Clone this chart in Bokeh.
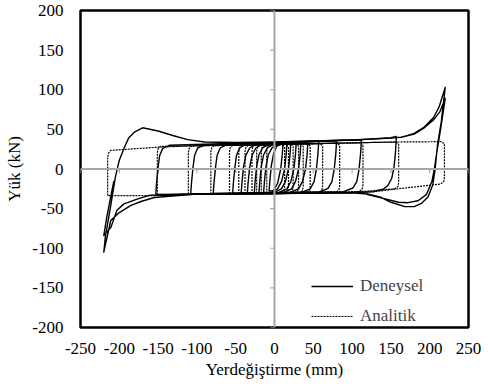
from bokeh.plotting import figure
from bokeh.models import Range1d, FixedTicker, Span, Legend, LegendItem
from bokeh.embed import file_html
from bokeh.resources import INLINE

# ---- axis ticks ----
x_ticks = [-250, -200, -150, -100, -50, 0, 50, 100, 150, 200, 250]
y_ticks = [-200, -150, -100, -50, 0, 50, 100, 150, 200]

# ---- Deneysel (experimental) cycles: displacement (mm), load (kN) ----
d1_x = [-7, -6, -4, -1, 3, 11, 10, 8, 4, -1, -7]
d1_y = [-28, -15, 5, 20, 29, 32, 18, 0, -18, -27, -28]
d2_x = [-14, -13, -11, -8, -3, 5, 16, 15, 13, 9, 4, -4, -14]
d2_y = [-29.5, -16, 3, 18, 27, 31.5, 33, 18, 0, -16, -25, -29.5, -29.5]
d3_x = [-20, -19, -17, -14, -9, -1, 21, 20, 18, 14, 9, 0, -20]
d3_y = [-30, -16, 3, 18, 27, 31.5, 33.5, 18, 0, -16, -25, -29.5, -30]
d4_x = [-26, -25, -23, -20, -15, -7, 28, 27, 25, 21, 16, 6, -26]
d4_y = [-30, -16, 3, 18, 27, 31.5, 34, 18, 0, -16, -25, -29.5, -30]
d5_x = [-35, -34, -32, -29, -24, -16, 34, 33, 31, 27, 22, 12, -35]
d5_y = [-30.5, -17, 2, 17, 26.5, 31.5, 34, 18, 0, -16, -25, -29.5, -30.5]
d6_x = [-43, -42, -40, -37, -32, -24, 43, 42, 40, 36, 31, 20, -43]
d6_y = [-31, -18, 2, 17, 26.5, 31.5, 34.5, 18, 0, -16, -25, -29.5, -31]
d7_x = [-54, -53, -51, -49, -45, -37, 57, 56, 54, 51, 46, 35, -54]
d7_y = [-31, -18, 2, 17, 26.5, 31, 35, 19, 0, -16, -25, -29.5, -31]
d8_x = [-79, -78, -76, -74, -70, -62, 80, 79, 77, 74, 69, 58, -79]
d8_y = [-31, -18, 2, 17, 26.5, 30.5, 35.5, 19, 0, -16, -24.5, -29, -31]
d9_x = [-108, -107, -105, -103, -99, -90, 112, 111, 109, 106, 101, 89, -108]
d9_y = [-31.5, -18, 2, 17, 26.5, 30.5, 37, 20, 0, -16, -24, -28.5, -31.5]
d10_x = [-153, -152, -150, -148, -144, -135, 100, 150, 157, 156, 154, 151, 146, 140, 128, 100, -153]
d10_y = [-32, -18, 2, 17, 26, 30, 36.5, 39.5, 41, 22, 2, -12, -21, -25.5, -28.5, -30, -32]
d11_x = [0, 100, 150, 163, 180, 193, 205, 212, 220, 215, 210, 207, 204, 198, 190, 180, 168, 150, 138,
         120, 100, 0, -100, -155, -172, -185, -200, -211, -220, -218, -211, -205, -200, -194, -188, -180,
         -170, -150, -130, -112, -90, -50, 0, 100, 150, 163, 180, 193, 205, 213, 220, 214, 209, 206, 203,
         196, 185, 172, 160, 140, 115, 100, 0, -100, -160, -177, -194, -203, -211, -220, -216, -211, -207]
d11_y = [34, 36.5, 39, 40, 45, 53, 65, 78, 103, 60, 30, 0, -20, -35, -43, -47.5, -47.5, -42, -36,
         -31.5, -30, -31, -31.5, -36, -41, -46, -55, -65, -105, -86, -46, -10, 11, 26, 39, 47,
         52, 48, 42, 37, 34, 33.5, 34, 36.5, 39, 40, 44, 52, 62, 72, 89, 50, 20, 0, -15,
         -32, -40, -42.5, -42, -37, -31, -30, -31, -31.5, -33, -38, -44, -52, -74, -84, -60, -35, -15]

# ---- Analitik (analytical) cycles ----
a1_x = [-10, -10, -9, -6, 10, 13, 13, 12, 8, -10]
a1_y = [-31, 23, 28, 31, 31, 28, -23, -28, -31, -31]
a2_x = [-17, -17, -16, -13, 15, 18, 18, 17, 13, -17]
a2_y = [-31, 22.5, 27.5, 30.5, 31, 28, -23, -28, -31, -31]
a3_x = [-23, -23, -22, -19, 21, 24, 24, 23, 19, -23]
a3_y = [-31, 22.5, 27.5, 30.5, 31.5, 28.5, -23, -28, -31, -31]
a4_x = [-29, -29, -28, -25, 28, 31, 31, 30, 26, -29]
a4_y = [-31.5, 22.5, 27.5, 30.5, 31.5, 28.5, -22.5, -27.5, -30.5, -31.5]
a5_x = [-38, -38, -37, -34, 34, 37, 37, 36, 32, -38]
a5_y = [-31.5, 22, 27, 30, 31.5, 28.5, -22.5, -27.5, -30.5, -31.5]
a6_x = [-46, -46, -45, -42, 43, 46, 46, 45, 41, -46]
a6_y = [-31.5, 22, 27, 30, 32, 29, -22.5, -27.5, -30.5, -31.5]
a7_x = [-58, -58, -57, -54, 59, 62, 62, 61, 57, -58]
a7_y = [-31.5, 22, 27, 30, 32, 29, -22, -27, -30, -31.5]
a8_x = [-82, -82, -81, -78, 81, 84, 84, 83, 79, -82]
a8_y = [-32, 21.5, 26.5, 29.5, 32.5, 29.5, -21.5, -26.5, -29.5, -32]
a9_x = [-111, -111, -110, -107, 111, 114, 114, 113, 109, -111]
a9_y = [-32, 21, 26, 29, 33, 30, -20.5, -25.5, -28.5, -32]
a10_x = [-151, -151, -150, -147, 157, 160, 160, 159, 155, 100, -151]
a10_y = [-32.5, 20.5, 25.5, 28.5, 34, 31, -17, -22, -25, -29.5, -32.5]
a11_x = [-215, -215, -214, -211, -150, -100, 0, 100, 150, 215, 219, 219, 218, 214, 159, 125, 0, -100, -155, -215]
a11_y = [-33.5, 14, 20, 23.5, 27.5, 29.5, 31, 33, 34, 34.5, 31.5, -11, -16, -19, -25, -29, -31, -32, -33.5, -33.5]

exp_xs = [d1_x, d2_x, d3_x, d4_x, d5_x, d6_x, d7_x, d8_x, d9_x, d10_x, d11_x]
exp_ys = [d1_y, d2_y, d3_y, d4_y, d5_y, d6_y, d7_y, d8_y, d9_y, d10_y, d11_y]
ana_xs = [a1_x, a2_x, a3_x, a4_x, a5_x, a6_x, a7_x, a8_x, a9_x, a10_x, a11_x]
ana_ys = [a1_y, a2_y, a3_y, a4_y, a5_y, a6_y, a7_y, a8_y, a9_y, a10_y, a11_y]

FONT = "'Liberation Serif', 'Times New Roman', serif"

p = figure(width=486, height=385,
           x_range=Range1d(-250, 250), y_range=Range1d(-200, 200),
           output_backend="svg", toolbar_location=None,
           min_border_left=80, min_border_right=18, min_border_top=10, min_border_bottom=58)
p.background_fill_color = "white"
p.border_fill_color = "white"
p.grid.visible = False
p.outline_line_color = "black"
p.outline_line_width = 2.5

for ax in (p.xaxis[0], p.yaxis[0]):
    ax.axis_line_color = None
    ax.major_tick_line_color = None
    ax.minor_tick_line_color = None
    ax.major_tick_out = 0
    ax.major_tick_in = 0
    ax.major_label_text_font = FONT
    ax.major_label_text_font_size = "17px"
    ax.major_label_text_color = "black"
    ax.axis_label_text_font = FONT
    ax.axis_label_text_font_size = "17px"
    ax.axis_label_text_font_style = "normal"
    ax.axis_label_text_color = "black"

p.xaxis.ticker = FixedTicker(ticks=x_ticks)
p.yaxis.ticker = FixedTicker(ticks=y_ticks)
p.xaxis.major_label_overrides = {t: str(t) for t in x_ticks}
p.yaxis.major_label_overrides = {t: str(t) for t in y_ticks}
p.xaxis.axis_label = "Yerdeğiştirme (mm)"
p.yaxis.axis_label = "Yük (kN)"
p.xaxis.major_label_standoff = 15
p.yaxis.major_label_standoff = 17
p.xaxis.axis_label_standoff = 3
p.yaxis.axis_label_standoff = 5

# zero axes (gray) with tick marks
p.add_layout(Span(location=0, dimension="width", line_color="#a6a6a6", line_width=2))
p.add_layout(Span(location=0, dimension="height", line_color="#a6a6a6", line_width=2))
p.segment(x0=x_ticks, y0=[0] * len(x_ticks), x1=x_ticks, y1=[-5.5] * len(x_ticks),
          line_color="#a6a6a6", line_width=1.2)
p.segment(x0=[0] * len(y_ticks), y0=y_ticks, x1=[-5.5] * len(y_ticks), y1=y_ticks,
          line_color="#a6a6a6", line_width=1.2)

r_ana = p.multi_line(xs=ana_xs, ys=ana_ys, line_color="black", line_width=1.2, line_dash="2 1")
r_exp = p.multi_line(xs=exp_xs, ys=exp_ys, line_color="black", line_width=1.4, line_join="round")

legend = Legend(items=[LegendItem(label="Deneysel", renderers=[r_exp]),
                       LegendItem(label="Analitik", renderers=[r_ana])],
                location=(231, 1), orientation="vertical",
                border_line_color=None, background_fill_alpha=0,
                padding=0, margin=0, spacing=10,
                glyph_width=42, glyph_height=20, label_height=20, label_standoff=7,
                label_text_font=FONT, label_text_font_size="17px")
p.add_layout(legend, "center")

open("out.html", "w").write(file_html(p, INLINE))
